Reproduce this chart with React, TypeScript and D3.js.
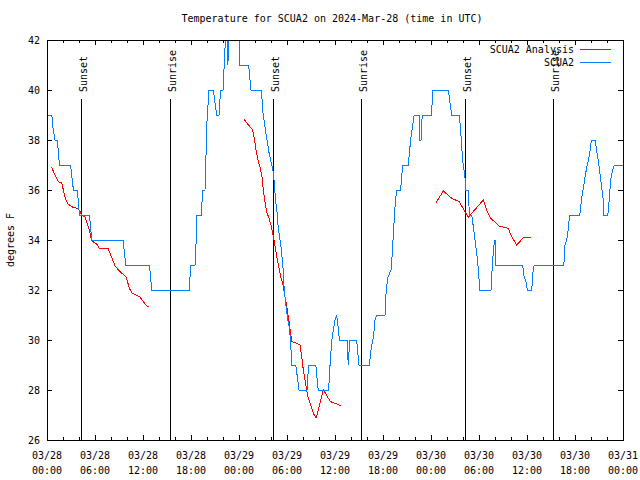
import React from 'react';
import * as d3 from 'd3';

const W = 640;
const H = 480;
const PLOT = { left: 47, right: 623, top: 40, bottom: 440 };
const T0 = Date.UTC(2024, 2, 28, 0, 0);
const T1 = Date.UTC(2024, 2, 31, 0, 0);
const hourToDate = (h: number) => new Date(T0 + h * 3600 * 1000);

const title = 'Temperature for SCUA2 on 2024-Mar-28 (time in UTC)';
const yLabel = 'degrees F';
const seriesNames = ['SCUA2 Analysis', 'SCUA2'];
const yTickValues = [26, 28, 30, 32, 34, 36, 38, 40, 42];

// Observed SCUA2 temperatures (hours since 03/28 00:00 UTC)
const obsHours = [
  0, 0.6, 0.75, 1.0, 1.3, 1.55, 2.95, 3.3, 3.8, 4.05, 5.3, 5.6, 9.5, 9.85, 12.8, 13.1,
  17.8, 17.95, 18.5, 18.65, 18.75, 19.3, 19.45, 19.75, 19.85, 19.95, 20.25, 20.8, 21.2, 21.5,
  21.7, 22.0, 22.3, 22.5, 22.6, 22.75, 24.0, 24.05, 25.2, 25.5, 26.8, 27.0, 27.3, 27.5, 27.75,
  27.95, 28.3, 28.45, 28.6, 28.8, 28.9, 29.3, 29.55, 29.65, 29.9, 30.05, 30.3, 30.45, 30.6,
  31.1, 31.5, 32.5, 32.7, 33.6, 33.9, 35.2, 35.4, 35.6, 35.8, 36.0, 36.2, 36.4, 36.55, 37.55,
  37.65, 37.85, 38.7, 39.0, 40.3, 40.46, 40.6, 40.8, 41.0, 41.2, 42.25, 42.4, 42.6, 43.0,
  43.17, 43.3, 43.42, 43.54, 43.7, 44.2, 44.33, 44.46, 45.17, 45.3, 45.46, 45.67, 45.9, 46.5,
  46.6, 46.75, 46.9, 48.08, 48.2, 50.17, 50.58, 51.54, 51.7, 51.87, 52.0, 52.25, 52.3, 52.66,
  52.8, 53.1, 53.3, 53.5, 53.7, 53.9, 54.1, 55.5, 55.7, 55.9, 56.0, 56.1, 59.46, 59.6, 59.9,
  60.04, 60.6, 60.7, 60.9, 64.6, 64.75, 64.96, 65.2, 65.3, 66.6, 66.8, 67.0, 67.25, 67.46,
  67.7, 67.9, 68.05, 68.5, 68.7, 68.9, 69.1, 69.3, 69.5, 69.6, 70.1, 70.3, 70.46, 70.7, 70.9, 72.0,
];
const obsTemps = [
  39, 39, 38.5, 38, 38, 37, 37, 36, 36, 35, 35, 34, 34, 33, 33, 32,
  32, 33, 33, 34, 35, 35, 36, 36, 37, 38.5, 40, 40, 39, 39,
  40, 40, 42, 42, 41, 42, 42, 41, 41, 40, 40, 39.1, 38.4, 38, 37.5,
  37.2, 36.7, 36.1, 35.5, 35, 34.5, 33.6, 32.7, 32, 31.3, 30.9, 30.5, 29.9, 29,
  29, 28, 28, 29, 29, 28, 28, 29.1, 30, 30.4, 30.8, 31, 30.5, 30, 30,
  29, 30, 30, 29, 29, 29.5, 29.8, 30.1, 30.8, 31, 31, 32, 32.5, 32.8,
  33.5, 34.3, 34.9, 35.5, 36, 36, 36.5, 37, 37, 37.5, 38, 38.5, 39, 39,
  38, 38, 39, 39, 40, 40, 39, 39, 38.4, 37.6, 37.1, 36.5, 36, 36,
  35, 35, 34.5, 34, 33.5, 32.9, 32, 32, 33.2, 33.9, 34, 33, 33, 32.6, 32.3,
  32, 32, 32.6, 33, 33, 33.8, 34, 34.5, 35, 35, 35.6, 36, 36.5, 36.9,
  37.2, 37.6, 38, 38, 37.6, 37.2, 36.7, 36.2, 35.7, 35, 35, 35.7, 36.4, 36.8, 37, 37,
];

// SCUA2 Analysis (null = gap)
const anaHours = [
  0.58, 1.0, 1.42, 1.83, 2.25, 2.54, 3.08, 3.71, 4.04, 4.33, 4.75, 5.29, 5.58, 6.2, 6.54, 7.67,
  8.5, 9.13, 9.88, 10.3, 10.6, 11.6, 12.46, 12.8,
  13.0,
  24.63, 24.96, 25.38, 25.71, 25.88, 26.13, 26.41, 26.63, 26.88, 27.04, 27.25, 27.46, 27.75,
  28.0, 28.21, 28.38, 28.59, 28.79, 29.0, 29.21, 29.46, 29.75, 30.04, 30.29, 30.59, 31.21,
  31.63, 31.84, 32.04, 32.25, 32.46, 32.66, 32.96, 33.29, 33.63, 33.91, 34.21, 34.54, 34.88,
  35.16, 35.46, 36.0, 36.71,
  40.0,
  48.59, 49.54, 50.59, 51.54, 52.25, 52.66, 53.09, 54.54, 54.96, 55.46, 56.54, 57.66, 58.08,
  58.71, 59.54, 60.5,
];
const anaTemps: (number | null)[] = [
  36.91, 36.6, 36.33, 36.29, 35.73, 35.47, 35.33, 35.27, 35.2, 35.0, 34.93, 34.4, 33.97, 33.84, 33.67, 33.64,
  32.97, 32.73, 32.53, 32.07, 31.89, 31.73, 31.36, 31.33,
  null,
  38.84, 38.69, 38.53, 38.4, 38.13, 37.6, 37.13, 36.93, 36.53, 36.0, 35.53, 35.13, 34.87,
  34.6, 34.27, 34.0, 33.6, 33.2, 32.87, 32.53, 32.27, 31.73, 31.2, 30.67, 29.93, 29.87,
  29.8, 29.33, 28.8, 28.4, 28.0, 27.67, 27.4, 27.07, 26.87, 27.2, 27.6, 28.0, 27.84,
  27.67, 27.53, 27.47, 27.37,
  null,
  35.47, 35.96, 35.67, 35.53, 35.13, 34.91, 35.07, 35.6, 35.2, 34.87, 34.56, 34.47, 34.13,
  33.8, 34.09, 34.11,
];

const sunsetHours = [4.29, 28.29, 52.29];
const sunriseHours = [15.35, 39.3, 63.3];

const RED = '#ff0000';
const BLUE = '#0080ff';
const FONT = "'DejaVu Sans Mono', monospace";

export default function App() {
  const x = d3.scaleUtc().domain([new Date(T0), new Date(T1)]).range([PLOT.left, PLOT.right]);
  const y = d3.scaleLinear().domain([26, 42]).range([PLOT.bottom, PLOT.top]);

  const majorTicks = x.ticks(d3.utcHour.every(6) as d3.TimeInterval);
  const minorTicks = x
    .ticks(d3.utcHour.every(2) as d3.TimeInterval)
    .filter((d) => d.getUTCHours() % 6 !== 0);
  const fmtDate = d3.utcFormat('%m/%d');
  const fmtTime = d3.utcFormat('%H:%M');

  const line = d3
    .line<[number, number | null]>()
    .defined((d) => d[1] != null)
    .x((d) => x(hourToDate(d[0])))
    .y((d) => y(d[1] as number));

  const obsPath = line(obsHours.map((h, i) => [h, obsTemps[i]]));
  const anaPath = line(anaHours.map((h, i) => [h, anaTemps[i]]));

  const px = (v: number) => Math.round(v) + 0.5;
  const MAJ = 5;
  const MIN = 3;

  const events = [
    ...sunsetHours.map((h) => ({ h, label: 'Sunset' })),
    ...sunriseHours.map((h) => ({ h, label: 'Sunrise' })),
  ];

  return (
    <svg
      width={W}
      height={H}
      style={{ position: 'absolute', left: 0, top: 0, background: '#fff' }}
      fontFamily={FONT}
      fontSize={10}
    >
      <rect x={0} y={0} width={W} height={H} fill="#fff" />
      <text x={332} y={22} textAnchor="middle" fill="#000">
        {title}
      </text>

      {/* y ticks */}
      {yTickValues.map((v) => (
        <g key={'y' + v} shapeRendering="crispEdges">
          <line x1={PLOT.left} x2={PLOT.left + MAJ} y1={px(y(v))} y2={px(y(v))} stroke="#000" />
          <line x1={PLOT.right} x2={PLOT.right - MAJ} y1={px(y(v))} y2={px(y(v))} stroke="#000" />
          <text x={40} y={y(v) + 3.7} textAnchor="end" fill="#000" shapeRendering="auto">
            {v}
          </text>
        </g>
      ))}

      {/* x ticks */}
      {majorTicks.map((d) => (
        <g key={'x' + d.getTime()}>
          <line x1={px(x(d))} x2={px(x(d))} y1={PLOT.bottom} y2={PLOT.bottom - MAJ} stroke="#000" shapeRendering="crispEdges" />
          <line x1={px(x(d))} x2={px(x(d))} y1={PLOT.top} y2={PLOT.top + MAJ} stroke="#000" shapeRendering="crispEdges" />
          <text x={x(d)} y={459} textAnchor="middle" fill="#000">
            {fmtDate(d)}
          </text>
          <text x={x(d)} y={474} textAnchor="middle" fill="#000">
            {fmtTime(d)}
          </text>
        </g>
      ))}
      {minorTicks.map((d) => (
        <g key={'m' + d.getTime()} shapeRendering="crispEdges">
          <line x1={px(x(d))} x2={px(x(d))} y1={PLOT.bottom} y2={PLOT.bottom - MIN} stroke="#000" />
          <line x1={px(x(d))} x2={px(x(d))} y1={PLOT.top} y2={PLOT.top + MIN} stroke="#000" />
        </g>
      ))}

      {/* sunrise / sunset markers */}
      {events.map((e) => {
        const lx = px(x(hourToDate(e.h)));
        return (
          <g key={e.label + e.h}>
            <line x1={lx} x2={lx} y1={99} y2={PLOT.bottom} stroke="#000" shapeRendering="crispEdges" />
            <text transform={`translate(${lx + 5.5},92) rotate(-90)`} fill="#000">
              {e.label}
            </text>
          </g>
        );
      })}

      {/* data */}
      <path d={anaPath || ''} fill="none" stroke={RED} strokeWidth={1} shapeRendering="crispEdges" />
      <path d={obsPath || ''} fill="none" stroke={BLUE} strokeWidth={1} shapeRendering="crispEdges" />

      {/* frame */}
      <rect
        x={PLOT.left + 0.5}
        y={PLOT.top + 0.5}
        width={PLOT.right - PLOT.left}
        height={PLOT.bottom - PLOT.top}
        fill="none"
        stroke="#000"
        shapeRendering="crispEdges"
      />

      {/* y label */}
      <text transform="translate(14,240) rotate(-90)" textAnchor="middle" fill="#000">
        {yLabel}
      </text>

      {/* legend */}
      <text x={574} y={53} textAnchor="end" fill="#000">
        {seriesNames[0]}
      </text>
      <line x1={580} x2={611} y1={49.5} y2={49.5} stroke={RED} shapeRendering="crispEdges" />
      <text x={574} y={66} textAnchor="end" fill="#000">
        {seriesNames[1]}
      </text>
      <line x1={580} x2={611} y1={62.5} y2={62.5} stroke={BLUE} shapeRendering="crispEdges" />
    </svg>
  );
}
